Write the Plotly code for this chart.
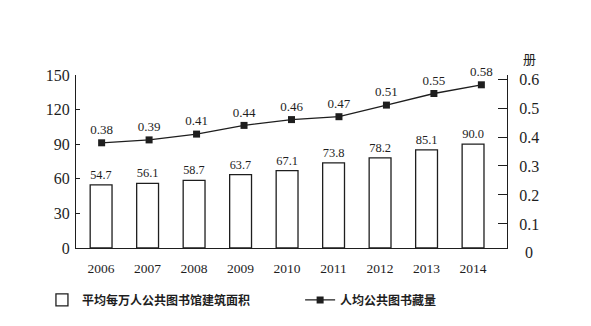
import plotly.graph_objects as go

years = ["2006", "2007", "2008", "2009", "2010", "2011", "2012", "2013", "2014"]
area_per_10k = [54.7, 56.1, 58.7, 63.7, 67.1, 73.8, 78.2, 85.1, 90.0]
books_per_capita = [0.38, 0.39, 0.41, 0.44, 0.46, 0.47, 0.51, 0.55, 0.58]
left_ticks = [0, 30, 60, 90, 120, 150]
right_ticks = [0.1, 0.2, 0.3, 0.4, 0.5, 0.6]

bar_name = "平均每万人公共图书馆建筑面积"
line_name = "人均公共图书藏量"
unit_right = "册"

SERIF = "Liberation Serif"
CJK = "Noto Sans CJK SC"
INK = "#1e1e1e"

y2_range = [0.0172, 0.6138]

fig = go.Figure()
fig.add_trace(go.Bar(
    x=years, y=area_per_10k, name=bar_name, legend="legend",
    marker=dict(color="white", line=dict(color=INK, width=1.3)),
    width=0.47,
    texttemplate="%{y:.1f}", textposition="outside",
    textfont=dict(family=SERIF, size=13, color=INK),
    cliponaxis=False,
))
fig.add_trace(go.Scatter(
    x=years, y=books_per_capita, name=line_name, legend="legend2",
    xaxis="x2", yaxis="y2",
    mode="lines+markers+text",
    line=dict(color=INK, width=1.3),
    marker=dict(symbol="square", size=7, color=INK),
    text=[f"{v:.2f}" for v in books_per_capita],
    textposition="top center",
    textfont=dict(family=SERIF, size=13, color=INK),
    cliponaxis=False,
))

legend_font = dict(family=CJK, size=12, color=INK, weight="bold")

fig.update_layout(
    width=591, height=326,
    margin=dict(l=76, r=84, t=75, b=78, autoexpand=False),
    paper_bgcolor="white", plot_bgcolor="white",
    showlegend=True,
    legend=dict(
        orientation="h", x=-0.079, xanchor="left",
        y=-0.30, yanchor="middle",
        font=legend_font, bgcolor="rgba(0,0,0,0)",
    ),
    legend2=dict(
        orientation="h", x=0.52, xanchor="left",
        y=-0.30, yanchor="middle",
        font=legend_font, bgcolor="rgba(0,0,0,0)",
    ),
    xaxis=dict(
        type="category", range=[-0.54, 8.73],
        showline=True, linecolor=INK, linewidth=1.3,
        ticks="", showgrid=False, zeroline=False,
        tickfont=dict(family=SERIF, size=13.5, color=INK),
        ticklabelstandoff=8,
    ),
    xaxis2=dict(
        type="category", range=[-0.54, 8.54], overlaying="x",
        visible=False,
    ),
    yaxis=dict(
        range=[0, 150], tickvals=left_ticks,
        showline=True, linecolor=INK, linewidth=1.3,
        ticks="inside", ticklen=4, tickcolor=INK, tickwidth=1.3,
        showgrid=False, zeroline=False,
        tickfont=dict(family=SERIF, size=16, color=INK),
        ticklabelstandoff=2,
    ),
    yaxis2=dict(
        range=y2_range, tickvals=right_ticks,
        ticktext=[f"{v:.1f}" for v in right_ticks],
        overlaying="y", side="right",
        showline=True, linecolor=INK, linewidth=1.3,
        ticks="inside", ticklen=9, tickcolor=INK, tickwidth=1.3,
        showgrid=False, zeroline=False,
        tickfont=dict(family=SERIF, size=16, color=INK),
        ticklabelstandoff=8,
    ),
    annotations=[
        dict(text=unit_right, xref="paper", yref="paper", x=1.053, y=1.0925,
             showarrow=False, font=dict(family=CJK, size=13, color=INK),
             xanchor="center", yanchor="middle"),
        dict(text="0", xref="paper", yref="paper", x=1, xshift=16,
             y=(0 - y2_range[0]) / (y2_range[1] - y2_range[0]),
             showarrow=False, font=dict(family=SERIF, size=16, color=INK),
             xanchor="left", yanchor="middle"),
    ],
)

fig.write_html("out.html")
